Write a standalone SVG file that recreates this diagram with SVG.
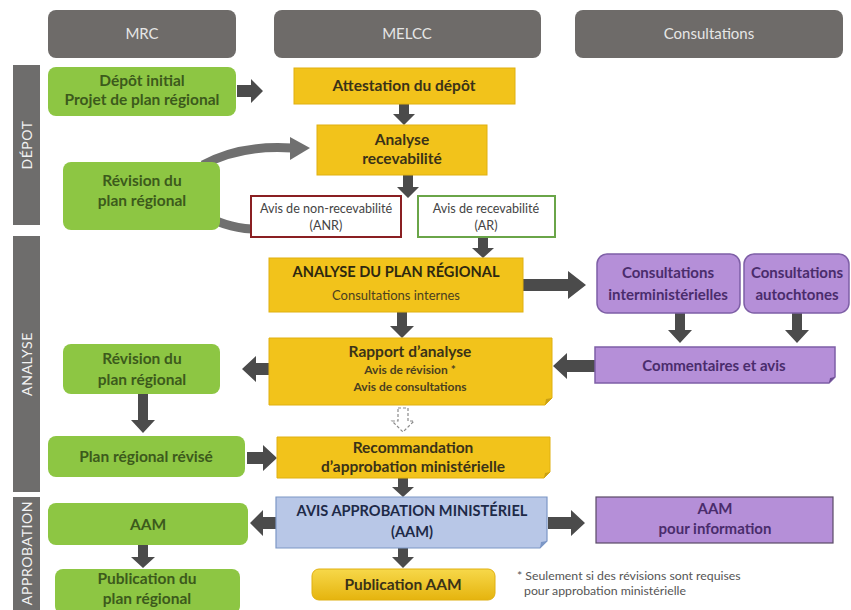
<svg xmlns="http://www.w3.org/2000/svg" width="851" height="610" viewBox="0 0 851 610">
<defs>
<style>
text{font-family:Lato,"Open Sans","Liberation Sans",sans-serif;text-anchor:middle}
.hdr{fill:#6e6b69}
.hdrt{fill:#e6e6e6;font-size:15px}
.bar{fill:#6e6d6c}
.bart{fill:#f2f2f2;font-size:14px;letter-spacing:0.6px}
.grn{fill:#8dc643}
.grnt{fill:#3c5a1c;font-size:15.5px;font-weight:bold}
.yel{fill:#f2c31b;stroke:#e0b010;stroke-width:1}
.yelt{fill:#3a3218;font-size:15.5px;font-weight:bold}
.yels{fill:#4a4020;font-size:12px;font-weight:bold}
.pur{fill:#b58fd8;stroke:#7e5fa6;stroke-width:1.5}
.purt{fill:#4a2c6c;font-size:15px;font-weight:bold}
.blu{fill:#b8c7e7;stroke:#7c97c6;stroke-width:1.2}
.blut{fill:#1e2a48;font-size:14.6px;font-weight:bold}
.fold{fill:#c9a014}
.arr{fill:#4b4b4b}
.curve{fill:none;stroke:#707070;stroke-width:9}
.note{fill:#555;font-size:12.3px;text-anchor:start}
.small{fill:#444;font-size:12.6px}
</style>
<linearGradient id="pubg" x1="0" y1="0" x2="0" y2="1">
<stop offset="0" stop-color="#f7d84a"/>
<stop offset="1" stop-color="#e5b40e"/>
</linearGradient>
</defs>
<rect width="851" height="610" fill="#ffffff"/>

<g id="headers">
<rect class="hdr" x="48" y="10" width="188" height="48" rx="8"/>
<text class="hdrt" x="142" y="39">MRC</text>
<rect class="hdr" x="274" y="10" width="267" height="48" rx="8"/>
<text class="hdrt" x="407" y="39">MELCC</text>
<rect class="hdr" x="575" y="10" width="268" height="48" rx="8"/>
<text class="hdrt" x="709" y="39">Consultations</text>
</g>

<g id="phases">
<rect class="bar" x="13" y="65" width="27" height="160"/>
<text class="bart" transform="translate(32,145) rotate(-90)">DÉPOT</text>
<rect class="bar" x="13" y="236" width="27" height="256"/>
<text class="bart" transform="translate(32,364) rotate(-90)">ANALYSE</text>
<rect class="bar" x="13" y="497" width="27" height="113"/>
<text class="bart" transform="translate(32,553) rotate(-90)">APPROBATION</text>
</g>

<g id="connectors">
<path class="curve" d="M203,165 C230,150 260,146 292,148"/>
<polygon style="fill:#707070" points="290,137 310,148 290,160"/>
<path class="curve" d="M200,212 C215,222 232,228 252,229"/>
<polygon class="arr" points="237,85 251,85 251,79 263,91 251,103 251,97 237,97"/>
<polygon class="arr" points="399,104 409,104 409,114 415,114 404,125 393,114 399,114"/>
<polygon class="arr" points="403,175 413,175 413,187 419,187 408,198 397,187 403,187"/>
<polygon class="arr" points="478,237 488,237 488,248 494,248 483,258 472,248 478,248"/>
<polygon class="arr" points="523,279 568,279 568,271 586,285 568,299 568,291 523,291"/>
<polygon class="arr" points="397,312 407,312 407,326 414,326 402,338 390,326 397,326"/>
<polygon class="arr" points="675,313 685,313 685,330 692,330 680,343 668,330 675,330"/>
<polygon class="arr" points="792,313 802,313 802,330 809,330 797,343 785,330 792,330"/>
<polygon class="arr" points="595,360 567,360 567,353 553,366 567,379 567,372 595,372"/>
<polygon class="arr" points="270,363 256,363 256,356 242,369 256,382 256,375 270,375"/>
<polygon class="arr" points="138,394 148,394 148,420 155,420 143,433 131,420 138,420"/>
<polygon class="arr" points="247,452 263,452 263,445 277,458 263,471 263,464 247,464"/>
<polygon points="398,408 408,408 408,421 414,421 403,432 392,421 398,421" fill="none" stroke="#8a8a8a" stroke-width="1.2" stroke-dasharray="3,2"/>
<polygon class="arr" points="398,478 408,478 408,487 414,487 403,497 392,487 398,487"/>
<polygon class="arr" points="276,517 263,517 263,510 250,523 263,536 263,529 276,529"/>
<polygon class="arr" points="548,517 571,517 571,510 585,523 571,536 571,529 548,529"/>
<polygon class="arr" points="138,545 148,545 148,557 155,557 143,568 131,557 138,557"/>
<polygon class="arr" points="398,548 408,548 408,557 414,557 403,568 392,557 398,557"/>
</g>

<g id="depot-initial">
<rect class="grn" x="48" y="67" width="188" height="49" rx="8"/>
<text class="grnt" x="142" y="86">Dépôt initial</text>
<text class="grnt" x="142" y="105">Projet de plan régional</text>
</g>

<g id="attestation">
<rect class="yel" x="294" y="68" width="221" height="36"/>
<text class="yelt" x="404" y="91">Attestation du dépôt</text>
</g>

<g id="analyse-recevabilite">
<rect class="yel" x="317" y="125" width="170" height="50"/>
<text class="yelt" x="402" y="145" font-size="16">Analyse</text>
<text class="yelt" x="402" y="164" font-size="16">recevabilité</text>
</g>

<g id="revision-1">
<rect class="grn" x="63" y="162" width="157" height="68" rx="8"/>
<text class="grnt" x="142" y="186">Révision du</text>
<text class="grnt" x="142" y="206">plan régional</text>
</g>

<g id="anr">
<rect x="251" y="196" width="150" height="41" fill="#ffffff" stroke="#8a1f22" stroke-width="2"/>
<text class="small" x="326" y="213">Avis de non-recevabilité</text>
<text class="small" x="326" y="230">(ANR)</text>
</g>

<g id="ar">
<rect x="418" y="196" width="137" height="41" fill="#ffffff" stroke="#6aa548" stroke-width="2"/>
<text class="small" x="486" y="213">Avis de recevabilité</text>
<text class="small" x="486" y="230">(AR)</text>
</g>

<g id="analyse-plan">
<rect class="yel" x="269" y="258" width="254" height="54"/>
<text x="396" y="277" fill="#2e2810" font-size="14.6" font-weight="bold">ANALYSE DU PLAN RÉGIONAL</text>
<text x="396" y="300" fill="#4a4020" font-size="13">Consultations internes</text>
</g>

<g id="consult-inter">
<rect class="pur" x="597" y="254" width="143" height="59" rx="10"/>
<text class="purt" x="668" y="278">Consultations</text>
<text class="purt" x="668" y="300">interministérielles</text>
</g>

<g id="consult-autoch">
<rect class="pur" x="744" y="254" width="105" height="59" rx="10"/>
<text class="purt" x="797" y="278">Consultations</text>
<text class="purt" x="797" y="300">autochtones</text>
</g>

<g id="commentaires">
<path class="pur" d="M595,347 H835 V377 L829,383 H595 Z"/>
<path d="M835,377 L829,383 L830,378 Z" fill="#6a4c90"/>
<text class="purt" x="714" y="371">Commentaires et avis</text>
</g>

<g id="rapport">
<path class="yel" d="M269,338 H552 V398 L545,405 H269 Z"/>
<path class="fold" d="M552,398 L545,405 L546,399 Z"/>
<text class="yelt" x="410" y="357" font-size="16">Rapport d’analyse</text>
<text class="yels" x="410" y="374">Avis de révision *</text>
<text class="yels" x="410" y="391">Avis de consultations</text>
</g>

<g id="revision-2">
<rect class="grn" x="63" y="344" width="157" height="50" rx="8"/>
<text class="grnt" x="142" y="364">Révision du</text>
<text class="grnt" x="142" y="385">plan régional</text>
</g>

<g id="plan-revise">
<rect class="grn" x="48" y="436" width="197" height="41" rx="8"/>
<text class="grnt" x="146" y="462">Plan régional révisé</text>
</g>

<g id="recommandation">
<path class="yel" d="M277,437 H550 V472 L544,478 H277 Z"/>
<path class="fold" d="M550,472 L544,478 L545,473 Z"/>
<text class="yelt" x="413" y="453" font-size="16.5">Recommandation</text>
<text class="yelt" x="413" y="472" font-size="16.5">d’approbation ministérielle</text>
</g>

<g id="avis-approbation">
<path class="blu" d="M276,497 H547 V541 L540,548 H276 Z"/>
<path d="M547,541 L540,548 L541,542 Z" fill="#7c97c6"/>
<text class="blut" x="412" y="516">AVIS APPROBATION MINISTÉRIEL</text>
<text class="blut" x="412" y="537">(AAM)</text>
</g>

<g id="aam-info">
<rect x="596" y="497" width="237" height="46" fill="#b58fd8" stroke="#5a4a66" stroke-width="1.2"/>
<text class="purt" x="715" y="514" font-size="14">AAM</text>
<text class="purt" x="715" y="534" font-size="14">pour information</text>
</g>

<g id="aam-mrc">
<rect class="grn" x="48" y="503" width="200" height="42" rx="8"/>
<text class="grnt" x="148" y="530" font-size="14.5">AAM</text>
</g>

<g id="publication-plan">
<rect class="grn" x="55" y="569" width="185" height="45" rx="8"/>
<text class="grnt" x="147" y="584" font-size="14.5">Publication du</text>
<text class="grnt" x="147" y="604" font-size="14.5">plan régional</text>
</g>

<g id="publication-aam">
<rect x="312" y="569" width="183" height="31" rx="7" fill="url(#pubg)" stroke="#e0b010"/>
<text class="yelt" x="403" y="590" font-size="14.5">Publication AAM</text>
</g>

<g id="footnote">
<text class="note" x="517" y="580">* Seulement si des révisions sont requises</text>
<text class="note" x="524" y="595">pour approbation ministérielle</text>
</g>
</svg>
